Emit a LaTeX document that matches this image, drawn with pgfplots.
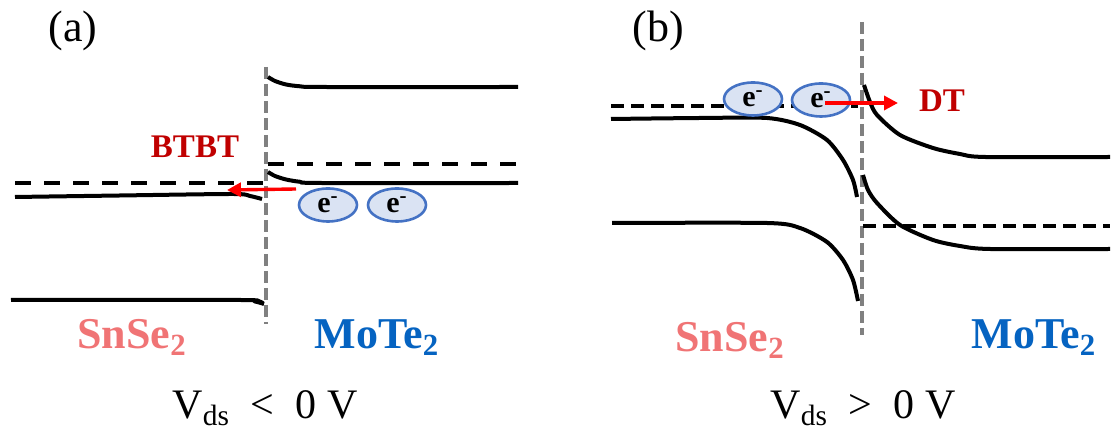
\documentclass[border=0pt]{standalone}
\usepackage{fontspec}
\setmainfont{Liberation Serif}
\usepackage{pgfplots}
\pgfplotsset{compat=1.18}
\usetikzlibrary{arrows.meta,shapes.geometric}

\definecolor{snse}{HTML}{F07475}
\definecolor{mote}{HTML}{0563C1}
\definecolor{tunnel}{HTML}{C00000}
\definecolor{efill}{HTML}{DAE3F3}
\definecolor{eline}{HTML}{4472C4}
\definecolor{iface}{HTML}{808080}

\tikzset{
  band/.style={black, line width=2pt, smooth, tension=0.45, mark=none},
  fermiA/.style={black, line width=2pt, dash pattern=on 8pt off 6.5pt, mark=none},
  fermiB/.style={black, line width=2pt, dash pattern=on 6.5pt off 3.5pt, mark=none},
  junction/.style={iface, line width=2pt, dash pattern=on 6pt off 2.5pt, mark=none},
  flow/.style={red, line width=1.7pt, mark=none, -{Triangle[length=7pt,width=7pt]}},
  electron/.style={ellipse, draw=eline, fill=efill, line width=1.3pt,
    minimum width=29pt, minimum height=16.5pt, inner sep=0pt,
    font=\fontsize{15}{15}\selectfont\bfseries},
}

\begin{document}
\begin{tikzpicture}[x=1pt,y=1pt]
\path[use as bounding box] (0,0) rectangle (556.5,218.5);
\begin{axis}[
  at={(0,0)}, anchor=south west,
  scale only axis, width=556.5pt, height=218.5pt,
  xmin=0, xmax=1113, ymin=0, ymax=437, y dir=reverse,
  axis lines=none, clip=false,
]
% ---------- (a) V_ds < 0 ----------
\addplot[junction] coordinates {(266,67) (266,324)};
% MoTe2 side
\addplot[band] coordinates {(268,77) (275,81) (286,84.5) (300,86.3) (323,87) (518,87)};
\addplot[fermiA] coordinates {(268,164) (518,164)};
\addplot[band] coordinates {(268,172) (275,176) (286,179.5) (300,181.8) (320,183) (518,183)};
% SnSe2 side
\addplot[fermiA] coordinates {(15,183) (264,183)};
\addplot[band] coordinates {(15,197) (120,195.5) (233,194) (250,196) (262,199)};
\addplot[band] coordinates {(11,300) (240,300) (255,301.5) (264,304)};
% tunnelling arrow
\addplot[flow] coordinates {(296,189) (227,190)};
\node[electron] at (axis cs:328,205) {e\textsuperscript{-}};
\node[electron] at (axis cs:397,205) {e\textsuperscript{-}};

\node[font=\fontsize{22}{25}\selectfont] at (axis cs:73,31) {(a)};
\node[font=\fontsize{16.5}{19}\selectfont\bfseries, text=tunnel] at (axis cs:195,147) {BTBT};
\node[anchor=base, font=\fontsize{22}{26}\selectfont\bfseries, text=snse] at (axis cs:132,349) {SnSe\textsubscript{2}};
\node[anchor=base, font=\fontsize{22}{26}\selectfont\bfseries, text=mote] at (axis cs:377,349) {MoTe\textsubscript{2}};
\node[anchor=base, font=\fontsize{21}{25}\selectfont] at (axis cs:265,419) {V\textsubscript{ds}~~<~~0~V};

% ---------- (b) V_ds > 0 ----------
\addplot[junction] coordinates {(862,22) (862,335)};
% SnSe2 side
\addplot[fermiB] coordinates {(611,106) (858,106)};
\addplot[band] coordinates {(611,119) (700,118) (767,118) (800,125) (827,140) (843,160) (853,180) (857,197)};
\addplot[band] coordinates {(612,223) (767,223) (800,228) (827,242) (843,260) (853,280) (858,301)};
% MoTe2 side
\addplot[band] coordinates {(864,85) (870,102) (877,115) (900,135) (933,148) (960,154) (985,157) (1110,157)};
\addplot[fermiB] coordinates {(863,226) (1110,226)};
\addplot[band] coordinates {(863,175) (868,190) (877,203) (900,225) (933,240) (960,246) (990,249) (1110,249)};
\node[electron] at (axis cs:753,99) {e\textsuperscript{-}};
\node[electron] at (axis cs:821,100) {e\textsuperscript{-}};
\addplot[flow] coordinates {(825,103) (898,103)};

\node[font=\fontsize{22}{25}\selectfont] at (axis cs:658,31) {(b)};
\node[font=\fontsize{16.5}{19}\selectfont\bfseries, text=tunnel] at (axis cs:942,101) {DT};
\node[anchor=base, font=\fontsize{22}{26}\selectfont\bfseries, text=snse] at (axis cs:730,352) {SnSe\textsubscript{2}};
\node[anchor=base, font=\fontsize{22}{26}\selectfont\bfseries, text=mote] at (axis cs:1034,349) {MoTe\textsubscript{2}};
\node[anchor=base, font=\fontsize{21}{25}\selectfont] at (axis cs:863,419) {V\textsubscript{ds}~~>~~0~V};
\end{axis}
\end{tikzpicture}
\end{document}
